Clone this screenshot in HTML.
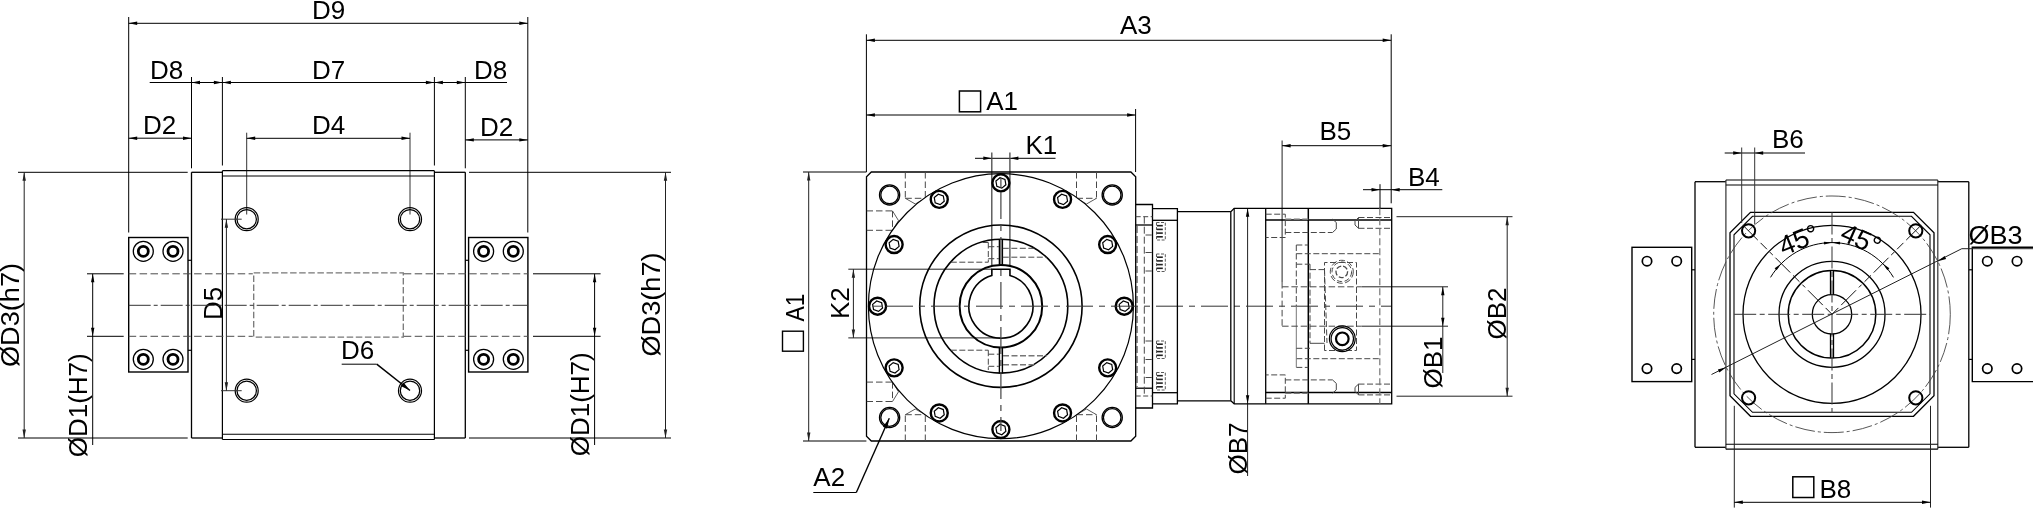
<!DOCTYPE html>
<html><head><meta charset="utf-8"><title>Drawing</title>
<style>
html,body{margin:0;padding:0;background:#fff;}
body{width:2033px;height:509px;overflow:hidden;font-family:"Liberation Sans",sans-serif;}
svg{display:block;will-change:transform;font-family:"Liberation Sans",sans-serif;}
</style></head><body>
<svg width="2033" height="509" viewBox="0 0 2033 509">
<rect x="0" y="0" width="2033" height="509" fill="#fff"/>
<line x1="128.70" y1="17.00" x2="128.70" y2="232.50" stroke="#000" stroke-width="1"/>
<line x1="527.80" y1="17.00" x2="527.80" y2="232.50" stroke="#000" stroke-width="1"/>
<line x1="128.70" y1="23.30" x2="527.80" y2="23.30" stroke="#000" stroke-width="1"/>
<polygon points="128.70,23.30 137.20,21.60 137.20,25.00" fill="#000"/>
<polygon points="527.80,23.30 519.30,25.00 519.30,21.60" fill="#000"/>
<text x="328.50" y="18.60" font-size="26" text-anchor="middle" fill="#000">D9</text>
<line x1="191.50" y1="77.00" x2="191.50" y2="168.30" stroke="#000" stroke-width="1"/>
<line x1="222.40" y1="77.00" x2="222.40" y2="165.50" stroke="#000" stroke-width="1"/>
<line x1="434.40" y1="77.00" x2="434.40" y2="165.50" stroke="#000" stroke-width="1"/>
<line x1="465.30" y1="77.00" x2="465.30" y2="168.30" stroke="#000" stroke-width="1"/>
<line x1="149.70" y1="82.50" x2="191.50" y2="82.50" stroke="#000" stroke-width="1"/>
<line x1="191.50" y1="82.50" x2="222.40" y2="82.50" stroke="#000" stroke-width="1"/>
<polygon points="191.50,82.50 200.00,80.80 200.00,84.20" fill="#000"/>
<polygon points="222.40,82.50 213.90,84.20 213.90,80.80" fill="#000"/>
<line x1="222.40" y1="82.50" x2="434.40" y2="82.50" stroke="#000" stroke-width="1"/>
<polygon points="222.40,82.50 230.90,80.80 230.90,84.20" fill="#000"/>
<polygon points="434.40,82.50 425.90,84.20 425.90,80.80" fill="#000"/>
<line x1="434.40" y1="82.50" x2="465.30" y2="82.50" stroke="#000" stroke-width="1"/>
<polygon points="434.40,82.50 442.90,80.80 442.90,84.20" fill="#000"/>
<polygon points="465.30,82.50 456.80,84.20 456.80,80.80" fill="#000"/>
<line x1="465.30" y1="82.50" x2="507.00" y2="82.50" stroke="#000" stroke-width="1"/>
<text x="150.00" y="78.70" font-size="26" text-anchor="start" fill="#000">D8</text>
<text x="328.50" y="78.70" font-size="26" text-anchor="middle" fill="#000">D7</text>
<text x="474.00" y="78.70" font-size="26" text-anchor="start" fill="#000">D8</text>
<line x1="128.70" y1="138.20" x2="191.50" y2="138.20" stroke="#000" stroke-width="1"/>
<polygon points="128.70,138.20 137.20,136.50 137.20,139.90" fill="#000"/>
<polygon points="191.50,138.20 183.00,139.90 183.00,136.50" fill="#000"/>
<text x="143.00" y="134.30" font-size="26" text-anchor="start" fill="#000">D2</text>
<line x1="465.30" y1="139.90" x2="527.80" y2="139.90" stroke="#000" stroke-width="1"/>
<polygon points="465.30,139.90 473.80,138.20 473.80,141.60" fill="#000"/>
<polygon points="527.80,139.90 519.30,141.60 519.30,138.20" fill="#000"/>
<text x="480.00" y="135.70" font-size="26" text-anchor="start" fill="#000">D2</text>
<line x1="246.70" y1="132.70" x2="246.70" y2="214.50" stroke="#333" stroke-width="1"/>
<line x1="410.00" y1="132.70" x2="410.00" y2="214.50" stroke="#333" stroke-width="1"/>
<line x1="246.70" y1="138.30" x2="410.00" y2="138.30" stroke="#000" stroke-width="1"/>
<polygon points="246.70,138.30 255.20,136.60 255.20,140.00" fill="#000"/>
<polygon points="410.00,138.30 401.50,140.00 401.50,136.60" fill="#000"/>
<text x="328.50" y="134.30" font-size="26" text-anchor="middle" fill="#000">D4</text>
<line x1="18.00" y1="172.30" x2="187.70" y2="172.30" stroke="#000" stroke-width="1"/>
<line x1="469.00" y1="172.30" x2="671.00" y2="172.30" stroke="#000" stroke-width="1"/>
<line x1="18.00" y1="438.00" x2="187.70" y2="438.00" stroke="#000" stroke-width="1"/>
<line x1="469.00" y1="438.00" x2="671.00" y2="438.00" stroke="#000" stroke-width="1"/>
<line x1="24.20" y1="172.30" x2="24.20" y2="438.00" stroke="#222" stroke-width="1"/>
<polygon points="24.20,172.30 25.90,180.80 22.50,180.80" fill="#222"/>
<polygon points="24.20,438.00 22.50,429.50 25.90,429.50" fill="#222"/>
<line x1="665.50" y1="172.30" x2="665.50" y2="438.00" stroke="#222" stroke-width="1"/>
<polygon points="665.50,172.30 667.20,180.80 663.80,180.80" fill="#222"/>
<polygon points="665.50,438.00 663.80,429.50 667.20,429.50" fill="#222"/>
<text x="19.30" y="367.00" font-size="26" text-anchor="start" fill="#000" transform="rotate(-90 19.30 367.00)" textLength="104" lengthAdjust="spacingAndGlyphs">ØD3(h7)</text>
<text x="659.80" y="356.50" font-size="26" text-anchor="start" fill="#000" transform="rotate(-90 659.80 356.50)" textLength="104" lengthAdjust="spacingAndGlyphs">ØD3(h7)</text>
<line x1="87.00" y1="273.80" x2="123.70" y2="273.80" stroke="#000" stroke-width="1"/>
<line x1="87.00" y1="336.30" x2="123.70" y2="336.30" stroke="#000" stroke-width="1"/>
<line x1="92.70" y1="273.80" x2="92.70" y2="445.00" stroke="#000" stroke-width="1"/>
<polygon points="92.70,273.80 94.40,282.30 91.00,282.30" fill="#000"/>
<polygon points="92.70,336.30 91.00,327.80 94.40,327.80" fill="#000"/>
<line x1="533.00" y1="273.80" x2="600.60" y2="273.80" stroke="#000" stroke-width="1"/>
<line x1="533.00" y1="336.30" x2="600.60" y2="336.30" stroke="#000" stroke-width="1"/>
<line x1="594.60" y1="273.80" x2="594.60" y2="445.00" stroke="#000" stroke-width="1"/>
<polygon points="594.60,273.80 596.30,282.30 592.90,282.30" fill="#000"/>
<polygon points="594.60,336.30 592.90,327.80 596.30,327.80" fill="#000"/>
<text x="87.20" y="457.30" font-size="26" text-anchor="start" fill="#000" transform="rotate(-90 87.20 457.30)" textLength="104" lengthAdjust="spacingAndGlyphs">ØD1(H7)</text>
<text x="589.20" y="456.30" font-size="26" text-anchor="start" fill="#000" transform="rotate(-90 589.20 456.30)" textLength="104" lengthAdjust="spacingAndGlyphs">ØD1(H7)</text>
<line x1="191.50" y1="172.30" x2="191.50" y2="438.00" stroke="#000" stroke-width="1.3"/>
<line x1="465.30" y1="172.30" x2="465.30" y2="438.00" stroke="#000" stroke-width="1.3"/>
<line x1="191.50" y1="172.30" x2="222.40" y2="172.30" stroke="#000" stroke-width="1.3"/>
<line x1="434.40" y1="172.30" x2="465.30" y2="172.30" stroke="#000" stroke-width="1.3"/>
<line x1="191.50" y1="438.00" x2="222.40" y2="438.00" stroke="#000" stroke-width="1.3"/>
<line x1="434.40" y1="438.00" x2="465.30" y2="438.00" stroke="#000" stroke-width="1.3"/>
<line x1="222.40" y1="170.70" x2="222.40" y2="439.50" stroke="#000" stroke-width="1.2"/>
<line x1="434.40" y1="170.70" x2="434.40" y2="439.50" stroke="#000" stroke-width="1.2"/>
<line x1="222.40" y1="170.70" x2="434.40" y2="170.70" stroke="#000" stroke-width="1.2"/>
<line x1="222.40" y1="176.00" x2="434.40" y2="176.00" stroke="#000" stroke-width="1.1"/>
<line x1="222.40" y1="439.50" x2="434.40" y2="439.50" stroke="#000" stroke-width="1.2"/>
<line x1="222.40" y1="434.30" x2="434.40" y2="434.30" stroke="#000" stroke-width="1.1"/>
<circle cx="246.70" cy="219.20" r="11.50" fill="none" stroke="#000" stroke-width="1.25"/>
<circle cx="246.70" cy="219.20" r="9.70" fill="none" stroke="#000" stroke-width="1.25"/>
<circle cx="246.70" cy="390.70" r="11.50" fill="none" stroke="#000" stroke-width="1.25"/>
<circle cx="246.70" cy="390.70" r="9.70" fill="none" stroke="#000" stroke-width="1.25"/>
<circle cx="410.00" cy="219.20" r="11.50" fill="none" stroke="#000" stroke-width="1.25"/>
<circle cx="410.00" cy="219.20" r="9.70" fill="none" stroke="#000" stroke-width="1.25"/>
<circle cx="410.00" cy="390.70" r="11.50" fill="none" stroke="#000" stroke-width="1.25"/>
<circle cx="410.00" cy="390.70" r="9.70" fill="none" stroke="#000" stroke-width="1.25"/>
<line x1="221.00" y1="219.20" x2="241.70" y2="219.20" stroke="#333" stroke-width="1"/>
<line x1="221.00" y1="390.70" x2="241.70" y2="390.70" stroke="#333" stroke-width="1"/>
<line x1="226.40" y1="219.20" x2="226.40" y2="390.70" stroke="#222" stroke-width="1"/>
<polygon points="226.40,219.20 228.10,227.70 224.70,227.70" fill="#222"/>
<polygon points="226.40,390.70 224.70,382.20 228.10,382.20" fill="#222"/>
<text x="222.00" y="320.00" font-size="26" text-anchor="start" fill="#000" transform="rotate(-90 222.00 320.00)">D5</text>
<line x1="341.70" y1="364.20" x2="376.70" y2="364.20" stroke="#000" stroke-width="1"/>
<line x1="376.70" y1="364.20" x2="410.00" y2="390.50" stroke="#000" stroke-width="1.5"/>
<polygon points="410.00,390.50 400.79,386.03 403.52,382.58" fill="#000"/>
<text x="341.00" y="358.50" font-size="26" text-anchor="start" fill="#000">D6</text>
<rect x="128.70" y="237.50" width="59.30" height="134.50" fill="none" stroke="#000" stroke-width="1.4"/>
<line x1="188.00" y1="260.30" x2="191.50" y2="260.30" stroke="#000" stroke-width="1.2"/>
<line x1="188.00" y1="350.30" x2="191.50" y2="350.30" stroke="#000" stroke-width="1.2"/>
<circle cx="143.30" cy="251.30" r="10.00" fill="none" stroke="#000" stroke-width="1.3"/>
<circle cx="143.30" cy="251.30" r="5.00" fill="none" stroke="#000" stroke-width="2.8"/>
<circle cx="143.30" cy="359.30" r="10.00" fill="none" stroke="#000" stroke-width="1.3"/>
<circle cx="143.30" cy="359.30" r="5.00" fill="none" stroke="#000" stroke-width="2.8"/>
<circle cx="173.00" cy="251.30" r="10.00" fill="none" stroke="#000" stroke-width="1.3"/>
<circle cx="173.00" cy="251.30" r="5.00" fill="none" stroke="#000" stroke-width="2.8"/>
<circle cx="173.00" cy="359.30" r="10.00" fill="none" stroke="#000" stroke-width="1.3"/>
<circle cx="173.00" cy="359.30" r="5.00" fill="none" stroke="#000" stroke-width="2.8"/>
<rect x="468.60" y="237.50" width="59.30" height="134.50" fill="none" stroke="#000" stroke-width="1.4"/>
<line x1="468.60" y1="260.30" x2="465.10" y2="260.30" stroke="#000" stroke-width="1.2"/>
<line x1="468.60" y1="350.30" x2="465.10" y2="350.30" stroke="#000" stroke-width="1.2"/>
<circle cx="513.30" cy="251.30" r="10.00" fill="none" stroke="#000" stroke-width="1.3"/>
<circle cx="513.30" cy="251.30" r="5.00" fill="none" stroke="#000" stroke-width="2.8"/>
<circle cx="513.30" cy="359.30" r="10.00" fill="none" stroke="#000" stroke-width="1.3"/>
<circle cx="513.30" cy="359.30" r="5.00" fill="none" stroke="#000" stroke-width="2.8"/>
<circle cx="483.60" cy="251.30" r="10.00" fill="none" stroke="#000" stroke-width="1.3"/>
<circle cx="483.60" cy="251.30" r="5.00" fill="none" stroke="#000" stroke-width="2.8"/>
<circle cx="483.60" cy="359.30" r="10.00" fill="none" stroke="#000" stroke-width="1.3"/>
<circle cx="483.60" cy="359.30" r="5.00" fill="none" stroke="#000" stroke-width="2.8"/>
<line x1="128.70" y1="273.80" x2="252.80" y2="273.80" stroke="#4c4c4c" stroke-width="1" stroke-dasharray="7.5 3.4"/>
<line x1="403.80" y1="273.80" x2="527.80" y2="273.80" stroke="#4c4c4c" stroke-width="1" stroke-dasharray="7.5 3.4"/>
<line x1="128.70" y1="336.30" x2="252.80" y2="336.30" stroke="#4c4c4c" stroke-width="1" stroke-dasharray="7.5 3.4"/>
<line x1="403.80" y1="336.30" x2="527.80" y2="336.30" stroke="#4c4c4c" stroke-width="1" stroke-dasharray="7.5 3.4"/>
<rect x="253.70" y="272.90" width="149.60" height="64.20" fill="none" stroke="#777" stroke-width="1.3" stroke-dasharray="6.5 2.6"/>
<line x1="128.70" y1="305.30" x2="527.80" y2="305.30" stroke="#333" stroke-width="1" stroke-dasharray="22 3 4 3"/>
<line x1="866.40" y1="34.30" x2="866.40" y2="172.00" stroke="#000" stroke-width="1"/>
<line x1="1391.20" y1="34.30" x2="1391.20" y2="203.30" stroke="#000" stroke-width="1"/>
<line x1="866.40" y1="40.30" x2="1391.20" y2="40.30" stroke="#000" stroke-width="1"/>
<polygon points="866.40,40.30 874.90,38.60 874.90,42.00" fill="#000"/>
<polygon points="1391.20,40.30 1382.70,42.00 1382.70,38.60" fill="#000"/>
<text x="1120.00" y="34.30" font-size="26" text-anchor="start" fill="#000">A3</text>
<line x1="1135.60" y1="109.00" x2="1135.60" y2="172.00" stroke="#000" stroke-width="1"/>
<line x1="866.40" y1="115.00" x2="1135.60" y2="115.00" stroke="#000" stroke-width="1"/>
<polygon points="866.40,115.00 874.90,113.30 874.90,116.70" fill="#000"/>
<polygon points="1135.60,115.00 1127.10,116.70 1127.10,113.30" fill="#000"/>
<rect x="959.40" y="91.00" width="21.20" height="20.80" fill="none" stroke="#000" stroke-width="1.5"/>
<text x="986.20" y="110.00" font-size="26" text-anchor="start" fill="#000">A1</text>
<line x1="975.00" y1="158.30" x2="1055.50" y2="158.30" stroke="#000" stroke-width="1"/>
<polygon points="991.80,158.30 983.30,160.00 983.30,156.60" fill="#000"/>
<polygon points="1009.90,158.30 1018.40,156.60 1018.40,160.00" fill="#000"/>
<line x1="991.80" y1="152.50" x2="991.80" y2="265.50" stroke="#484848" stroke-width="1.3"/>
<line x1="1009.90" y1="152.50" x2="1009.90" y2="265.50" stroke="#484848" stroke-width="1.3"/>
<text x="1025.50" y="154.30" font-size="26" text-anchor="start" fill="#000">K1</text>
<line x1="1282.10" y1="140.50" x2="1282.10" y2="282.00" stroke="#222" stroke-width="1"/>
<line x1="1282.10" y1="145.70" x2="1391.20" y2="145.70" stroke="#000" stroke-width="1"/>
<polygon points="1282.10,145.70 1290.60,144.00 1290.60,147.40" fill="#000"/>
<polygon points="1391.20,145.70 1382.70,147.40 1382.70,144.00" fill="#000"/>
<text x="1319.50" y="140.00" font-size="26" text-anchor="start" fill="#000">B5</text>
<line x1="1363.00" y1="189.70" x2="1442.30" y2="189.70" stroke="#000" stroke-width="1"/>
<polygon points="1380.00,189.70 1371.50,191.40 1371.50,188.00" fill="#000"/>
<polygon points="1391.20,189.70 1399.70,188.00 1399.70,191.40" fill="#000"/>
<line x1="1380.00" y1="184.20" x2="1380.00" y2="208.30" stroke="#000" stroke-width="1"/>
<text x="1408.00" y="185.50" font-size="26" text-anchor="start" fill="#000">B4</text>
<line x1="803.00" y1="172.00" x2="866.40" y2="172.00" stroke="#000" stroke-width="1"/>
<line x1="803.00" y1="441.00" x2="866.40" y2="441.00" stroke="#000" stroke-width="1"/>
<line x1="808.70" y1="172.00" x2="808.70" y2="441.00" stroke="#222" stroke-width="1"/>
<polygon points="808.70,172.00 810.40,180.50 807.00,180.50" fill="#222"/>
<polygon points="808.70,441.00 807.00,432.50 810.40,432.50" fill="#222"/>
<text x="804.00" y="321.50" font-size="26" text-anchor="start" fill="#000" transform="rotate(-90 804.00 321.50)" textLength="28" lengthAdjust="spacingAndGlyphs">A1</text>
<rect x="782.50" y="331.20" width="20.90" height="20.00" fill="none" stroke="#000" stroke-width="1.4"/>
<line x1="848.30" y1="269.20" x2="991.80" y2="269.20" stroke="#222" stroke-width="1"/>
<line x1="848.30" y1="337.90" x2="1000.90" y2="337.90" stroke="#222" stroke-width="1"/>
<line x1="853.40" y1="269.20" x2="853.40" y2="337.90" stroke="#222" stroke-width="1"/>
<polygon points="853.40,269.20 855.10,277.70 851.70,277.70" fill="#222"/>
<polygon points="853.40,337.90 851.70,329.40 855.10,329.40" fill="#222"/>
<text x="848.50" y="319.00" font-size="26" text-anchor="start" fill="#000" transform="rotate(-90 848.50 319.00)">K2</text>
<line x1="813.30" y1="492.50" x2="856.30" y2="492.50" stroke="#000" stroke-width="1.2"/>
<line x1="856.30" y1="492.50" x2="889.30" y2="418.20" stroke="#000" stroke-width="1.4"/>
<polygon points="889.30,418.20 887.14,428.73 882.94,426.86" fill="#000"/>
<text x="813.30" y="485.50" font-size="26" text-anchor="start" fill="#000">A2</text>
<line x1="1247.60" y1="208.30" x2="1247.60" y2="476.00" stroke="#222" stroke-width="1"/>
<polygon points="1247.60,208.30 1249.30,216.80 1245.90,216.80" fill="#000"/>
<polygon points="1247.60,403.80 1245.90,395.30 1249.30,395.30" fill="#000"/>
<text x="1246.50" y="474.50" font-size="26" text-anchor="start" fill="#000" transform="rotate(-90 1246.50 474.50)">ØB7</text>
<line x1="1361.70" y1="286.80" x2="1448.00" y2="286.80" stroke="#222" stroke-width="1"/>
<line x1="1361.70" y1="326.20" x2="1448.00" y2="326.20" stroke="#222" stroke-width="1"/>
<line x1="1442.80" y1="286.80" x2="1442.80" y2="373.00" stroke="#222" stroke-width="1"/>
<polygon points="1442.80,286.80 1444.50,295.30 1441.10,295.30" fill="#000"/>
<polygon points="1442.80,326.20 1441.10,317.70 1444.50,317.70" fill="#000"/>
<text x="1442.00" y="388.50" font-size="26" text-anchor="start" fill="#000" transform="rotate(-90 1442.00 388.50)">ØB1</text>
<line x1="1396.50" y1="216.70" x2="1512.50" y2="216.70" stroke="#222" stroke-width="1"/>
<line x1="1396.50" y1="396.20" x2="1512.50" y2="396.20" stroke="#222" stroke-width="1"/>
<line x1="1507.20" y1="216.70" x2="1507.20" y2="396.20" stroke="#222" stroke-width="1"/>
<polygon points="1507.20,216.70 1508.90,225.20 1505.50,225.20" fill="#222"/>
<polygon points="1507.20,396.20 1505.50,387.70 1508.90,387.70" fill="#222"/>
<text x="1506.00" y="339.50" font-size="26" text-anchor="start" fill="#000" transform="rotate(-90 1506.00 339.50)">ØB2</text>
<path d="M871.30 172.00 L1130.90 172.00 L1135.70 176.80 L1135.70 436.20 L1130.90 441.00 L871.30 441.00 L866.50 436.20 L866.50 176.80 Z" fill="none" stroke="#000" stroke-width="1.3"/>
<circle cx="889.60" cy="194.90" r="10.10" fill="none" stroke="#000" stroke-width="1.3"/>
<circle cx="889.60" cy="194.90" r="8.80" fill="none" stroke="#000" stroke-width="1.3"/>
<circle cx="889.60" cy="417.50" r="10.10" fill="none" stroke="#000" stroke-width="1.3"/>
<circle cx="889.60" cy="417.50" r="8.80" fill="none" stroke="#000" stroke-width="1.3"/>
<circle cx="1112.20" cy="194.90" r="10.10" fill="none" stroke="#000" stroke-width="1.3"/>
<circle cx="1112.20" cy="194.90" r="8.80" fill="none" stroke="#000" stroke-width="1.3"/>
<circle cx="1112.20" cy="417.50" r="10.10" fill="none" stroke="#000" stroke-width="1.3"/>
<circle cx="1112.20" cy="417.50" r="8.80" fill="none" stroke="#000" stroke-width="1.3"/>
<clipPath id="outc"><path clip-rule="evenodd" d="M866.5 172.0 H1135.7 V441.0 H866.5 Z M868.4 306.2 a132.5 132.5 0 1 0 265.0 0 a132.5 132.5 0 1 0 -265.0 0 Z"/></clipPath>
<g clip-path="url(#outc)">
<line x1="905.30" y1="172.00" x2="905.30" y2="198.30" stroke="#484848" stroke-width="1" stroke-dasharray="6.5 3"/>
<line x1="925.30" y1="172.00" x2="925.30" y2="198.30" stroke="#484848" stroke-width="1" stroke-dasharray="6.5 3"/>
<line x1="905.30" y1="198.30" x2="925.30" y2="198.30" stroke="#484848" stroke-width="1" stroke-dasharray="6.5 3"/>
<path d="M905.30 198.30 L915.30 204.00 L925.30 198.30" fill="none" stroke="#484848" stroke-width="0.9"/>
<line x1="905.30" y1="441.00" x2="905.30" y2="414.70" stroke="#484848" stroke-width="1" stroke-dasharray="6.5 3"/>
<line x1="925.30" y1="441.00" x2="925.30" y2="414.70" stroke="#484848" stroke-width="1" stroke-dasharray="6.5 3"/>
<line x1="905.30" y1="414.70" x2="925.30" y2="414.70" stroke="#484848" stroke-width="1" stroke-dasharray="6.5 3"/>
<path d="M905.30 414.70 L915.30 409.00 L925.30 414.70" fill="none" stroke="#484848" stroke-width="0.9"/>
<line x1="1076.50" y1="172.00" x2="1076.50" y2="198.30" stroke="#484848" stroke-width="1" stroke-dasharray="6.5 3"/>
<line x1="1096.50" y1="172.00" x2="1096.50" y2="198.30" stroke="#484848" stroke-width="1" stroke-dasharray="6.5 3"/>
<line x1="1076.50" y1="198.30" x2="1096.50" y2="198.30" stroke="#484848" stroke-width="1" stroke-dasharray="6.5 3"/>
<path d="M1076.50 198.30 L1086.50 204.00 L1096.50 198.30" fill="none" stroke="#484848" stroke-width="0.9"/>
<line x1="1076.50" y1="441.00" x2="1076.50" y2="414.70" stroke="#484848" stroke-width="1" stroke-dasharray="6.5 3"/>
<line x1="1096.50" y1="441.00" x2="1096.50" y2="414.70" stroke="#484848" stroke-width="1" stroke-dasharray="6.5 3"/>
<line x1="1076.50" y1="414.70" x2="1096.50" y2="414.70" stroke="#484848" stroke-width="1" stroke-dasharray="6.5 3"/>
<path d="M1076.50 414.70 L1086.50 409.00 L1096.50 414.70" fill="none" stroke="#484848" stroke-width="0.9"/>
<line x1="866.50" y1="210.90" x2="892.50" y2="210.90" stroke="#484848" stroke-width="1" stroke-dasharray="6.5 3"/>
<line x1="866.50" y1="230.30" x2="892.50" y2="230.30" stroke="#484848" stroke-width="1" stroke-dasharray="6.5 3"/>
<line x1="892.50" y1="210.90" x2="892.50" y2="230.30" stroke="#484848" stroke-width="1" stroke-dasharray="6.5 3"/>
<path d="M892.50 210.90 L898.50 220.60 L892.50 230.30" fill="none" stroke="#484848" stroke-width="0.9"/>
<line x1="866.50" y1="382.10" x2="892.50" y2="382.10" stroke="#484848" stroke-width="1" stroke-dasharray="6.5 3"/>
<line x1="866.50" y1="401.50" x2="892.50" y2="401.50" stroke="#484848" stroke-width="1" stroke-dasharray="6.5 3"/>
<line x1="892.50" y1="382.10" x2="892.50" y2="401.50" stroke="#484848" stroke-width="1" stroke-dasharray="6.5 3"/>
<path d="M892.50 382.10 L898.50 391.80 L892.50 401.50" fill="none" stroke="#484848" stroke-width="0.9"/>
</g>
<circle cx="1000.90" cy="306.20" r="132.50" fill="none" stroke="#000" stroke-width="1.2"/>
<circle cx="1000.90" cy="306.20" r="81.20" fill="none" stroke="#000" stroke-width="1.6"/>
<circle cx="1000.90" cy="306.20" r="66.90" fill="none" stroke="#000" stroke-width="1.6"/>
<circle cx="1000.90" cy="306.20" r="41.30" fill="none" stroke="#000" stroke-width="2.0"/>
<path d="M991.85 275.51 V269.2 H1009.95 V275.51 A32.0 32.0 0 1 1 991.85 275.51 Z" fill="none" stroke="#000" stroke-width="1.6"/>
<line x1="999.40" y1="239.30" x2="999.40" y2="264.90" stroke="#000" stroke-width="1.4"/>
<line x1="1002.40" y1="239.30" x2="1002.40" y2="264.90" stroke="#000" stroke-width="1.4"/>
<line x1="999.40" y1="347.50" x2="999.40" y2="373.10" stroke="#000" stroke-width="1.4"/>
<line x1="1002.40" y1="347.50" x2="1002.40" y2="373.10" stroke="#000" stroke-width="1.4"/>
<line x1="950.80" y1="262.20" x2="988.30" y2="262.20" stroke="#484848" stroke-width="1" stroke-dasharray="6 2.5"/>
<line x1="988.30" y1="242.50" x2="988.30" y2="262.20" stroke="#484848" stroke-width="1" stroke-dasharray="6 2.5"/>
<line x1="982.50" y1="242.50" x2="988.30" y2="242.50" stroke="#484848" stroke-width="1"/>
<line x1="988.30" y1="246.70" x2="999.00" y2="246.70" stroke="#484848" stroke-width="1" stroke-dasharray="6 2.5"/>
<line x1="988.30" y1="258.70" x2="999.00" y2="258.70" stroke="#484848" stroke-width="1" stroke-dasharray="6 2.5"/>
<line x1="1002.80" y1="248.30" x2="1035.00" y2="248.30" stroke="#484848" stroke-width="1" stroke-dasharray="6 2.5"/>
<line x1="1002.80" y1="257.20" x2="1046.70" y2="257.20" stroke="#484848" stroke-width="1" stroke-dasharray="6 2.5"/>
<line x1="950.80" y1="350.20" x2="988.30" y2="350.20" stroke="#484848" stroke-width="1" stroke-dasharray="6 2.5"/>
<line x1="988.30" y1="350.20" x2="988.30" y2="370.00" stroke="#484848" stroke-width="1" stroke-dasharray="6 2.5"/>
<line x1="988.30" y1="354.20" x2="999.00" y2="354.20" stroke="#484848" stroke-width="1" stroke-dasharray="6 2.5"/>
<line x1="988.30" y1="366.30" x2="999.00" y2="366.30" stroke="#484848" stroke-width="1" stroke-dasharray="6 2.5"/>
<line x1="1003.00" y1="355.80" x2="1046.70" y2="355.80" stroke="#777" stroke-width="1.5" stroke-dasharray="6 2.5"/>
<line x1="1003.00" y1="364.70" x2="1034.20" y2="364.70" stroke="#777" stroke-width="1.5" stroke-dasharray="6 2.5"/>
<circle cx="1124.20" cy="306.20" r="8.50" fill="none" stroke="#000" stroke-width="2.4"/>
<path d="M1129.18 308.01 L1125.12 311.42 L1120.14 309.61 L1119.22 304.39 L1123.28 300.98 L1128.26 302.79 Z" fill="none" stroke="#000" stroke-width="1.2"/>
<circle cx="1107.68" cy="367.85" r="8.50" fill="none" stroke="#000" stroke-width="2.4"/>
<path d="M1112.66 369.66 L1108.60 373.07 L1103.62 371.26 L1102.70 366.04 L1106.76 362.63 L1111.74 364.44 Z" fill="none" stroke="#000" stroke-width="1.2"/>
<circle cx="1062.55" cy="412.98" r="8.50" fill="none" stroke="#000" stroke-width="2.4"/>
<path d="M1067.53 414.79 L1063.47 418.20 L1058.49 416.39 L1057.57 411.17 L1061.63 407.76 L1066.61 409.57 Z" fill="none" stroke="#000" stroke-width="1.2"/>
<circle cx="1000.90" cy="429.50" r="8.50" fill="none" stroke="#000" stroke-width="2.4"/>
<path d="M1005.88 431.31 L1001.82 434.72 L996.84 432.91 L995.92 427.69 L999.98 424.28 L1004.96 426.09 Z" fill="none" stroke="#000" stroke-width="1.2"/>
<circle cx="939.25" cy="412.98" r="8.50" fill="none" stroke="#000" stroke-width="2.4"/>
<path d="M944.23 414.79 L940.17 418.20 L935.19 416.39 L934.27 411.17 L938.33 407.76 L943.31 409.57 Z" fill="none" stroke="#000" stroke-width="1.2"/>
<circle cx="894.12" cy="367.85" r="8.50" fill="none" stroke="#000" stroke-width="2.4"/>
<path d="M899.10 369.66 L895.04 373.07 L890.06 371.26 L889.14 366.04 L893.20 362.63 L898.18 364.44 Z" fill="none" stroke="#000" stroke-width="1.2"/>
<circle cx="877.60" cy="306.20" r="8.50" fill="none" stroke="#000" stroke-width="2.4"/>
<path d="M882.58 308.01 L878.52 311.42 L873.54 309.61 L872.62 304.39 L876.68 300.98 L881.66 302.79 Z" fill="none" stroke="#000" stroke-width="1.2"/>
<circle cx="894.12" cy="244.55" r="8.50" fill="none" stroke="#000" stroke-width="2.4"/>
<path d="M899.10 246.36 L895.04 249.77 L890.06 247.96 L889.14 242.74 L893.20 239.33 L898.18 241.14 Z" fill="none" stroke="#000" stroke-width="1.2"/>
<circle cx="939.25" cy="199.42" r="8.50" fill="none" stroke="#000" stroke-width="2.4"/>
<path d="M944.23 201.23 L940.17 204.64 L935.19 202.83 L934.27 197.61 L938.33 194.20 L943.31 196.01 Z" fill="none" stroke="#000" stroke-width="1.2"/>
<circle cx="1000.90" cy="182.90" r="8.50" fill="none" stroke="#000" stroke-width="2.4"/>
<path d="M1005.88 184.71 L1001.82 188.12 L996.84 186.31 L995.92 181.09 L999.98 177.68 L1004.96 179.49 Z" fill="none" stroke="#000" stroke-width="1.2"/>
<circle cx="1062.55" cy="199.42" r="8.50" fill="none" stroke="#000" stroke-width="2.4"/>
<path d="M1067.53 201.23 L1063.47 204.64 L1058.49 202.83 L1057.57 197.61 L1061.63 194.20 L1066.61 196.01 Z" fill="none" stroke="#000" stroke-width="1.2"/>
<circle cx="1107.68" cy="244.55" r="8.50" fill="none" stroke="#000" stroke-width="2.4"/>
<path d="M1112.66 246.36 L1108.60 249.77 L1103.62 247.96 L1102.70 242.74 L1106.76 239.33 L1111.74 241.14 Z" fill="none" stroke="#000" stroke-width="1.2"/>
<line x1="886.00" y1="306.20" x2="1391.50" y2="306.20" stroke="#333" stroke-width="1" stroke-dasharray="27 6 6 6"/>
<line x1="1000.90" y1="192.00" x2="1000.90" y2="431.00" stroke="#444" stroke-width="1.2" stroke-dasharray="27 6 6 6"/>
<line x1="1000.90" y1="178.00" x2="1000.90" y2="188.00" stroke="#444" stroke-width="1.2"/>
<line x1="872.00" y1="306.20" x2="883.00" y2="306.20" stroke="#444" stroke-width="1"/>
<path d="M1135.70 204.50 L1152.50 204.50 L1152.50 408.00 L1135.70 408.00" fill="none" stroke="#000" stroke-width="1.3"/>
<line x1="1135.70" y1="225.00" x2="1152.50" y2="225.00" stroke="#000" stroke-width="1.3"/>
<line x1="1135.70" y1="388.20" x2="1152.50" y2="388.20" stroke="#000" stroke-width="1.3"/>
<path d="M1152.50 208.60 L1177.40 208.60 L1177.40 403.80 L1152.50 403.80" fill="none" stroke="#000" stroke-width="1.3"/>
<line x1="1152.50" y1="220.30" x2="1177.40" y2="220.30" stroke="#000" stroke-width="1.3"/>
<line x1="1152.50" y1="392.70" x2="1177.40" y2="392.70" stroke="#000" stroke-width="1.3"/>
<line x1="1135.70" y1="216.70" x2="1152.50" y2="216.70" stroke="#484848" stroke-width="1" stroke-dasharray="5 2.5"/>
<line x1="1135.70" y1="396.00" x2="1152.50" y2="396.00" stroke="#484848" stroke-width="1" stroke-dasharray="5 2.5"/>
<line x1="1144.30" y1="216.70" x2="1144.30" y2="396.00" stroke="#484848" stroke-width="1" stroke-dasharray="7 3"/>
<line x1="1137.00" y1="226.00" x2="1137.00" y2="387.00" stroke="#444" stroke-width="1.2" stroke-dasharray="7 3"/>
<line x1="1145.50" y1="235.00" x2="1151.80" y2="235.00" stroke="#484848" stroke-width="1"/>
<line x1="1145.50" y1="252.50" x2="1151.80" y2="252.50" stroke="#484848" stroke-width="1"/>
<line x1="1145.50" y1="271.00" x2="1151.80" y2="271.00" stroke="#484848" stroke-width="1"/>
<line x1="1145.50" y1="341.00" x2="1151.80" y2="341.00" stroke="#484848" stroke-width="1"/>
<line x1="1145.50" y1="359.50" x2="1151.80" y2="359.50" stroke="#484848" stroke-width="1"/>
<line x1="1145.50" y1="377.50" x2="1151.80" y2="377.50" stroke="#484848" stroke-width="1"/>
<rect x="1156.50" y="222.50" width="8.80" height="17.50" fill="none" stroke="#484848" stroke-width="0.9" stroke-dasharray="3 1.5"/>
<line x1="1157.00" y1="225.70" x2="1162.80" y2="225.70" stroke="#222" stroke-width="1.6"/>
<line x1="1157.00" y1="229.40" x2="1162.80" y2="229.40" stroke="#222" stroke-width="1.6"/>
<line x1="1157.00" y1="233.10" x2="1162.80" y2="233.10" stroke="#222" stroke-width="1.6"/>
<line x1="1157.00" y1="236.80" x2="1162.80" y2="236.80" stroke="#222" stroke-width="1.6"/>
<rect x="1156.50" y="254.00" width="8.80" height="17.50" fill="none" stroke="#484848" stroke-width="0.9" stroke-dasharray="3 1.5"/>
<line x1="1157.00" y1="257.20" x2="1162.80" y2="257.20" stroke="#222" stroke-width="1.6"/>
<line x1="1157.00" y1="260.90" x2="1162.80" y2="260.90" stroke="#222" stroke-width="1.6"/>
<line x1="1157.00" y1="264.60" x2="1162.80" y2="264.60" stroke="#222" stroke-width="1.6"/>
<line x1="1157.00" y1="268.30" x2="1162.80" y2="268.30" stroke="#222" stroke-width="1.6"/>
<rect x="1156.50" y="341.00" width="8.80" height="17.50" fill="none" stroke="#484848" stroke-width="0.9" stroke-dasharray="3 1.5"/>
<line x1="1157.00" y1="344.20" x2="1162.80" y2="344.20" stroke="#222" stroke-width="1.6"/>
<line x1="1157.00" y1="347.90" x2="1162.80" y2="347.90" stroke="#222" stroke-width="1.6"/>
<line x1="1157.00" y1="351.60" x2="1162.80" y2="351.60" stroke="#222" stroke-width="1.6"/>
<line x1="1157.00" y1="355.30" x2="1162.80" y2="355.30" stroke="#222" stroke-width="1.6"/>
<rect x="1156.50" y="372.50" width="8.80" height="17.50" fill="none" stroke="#484848" stroke-width="0.9" stroke-dasharray="3 1.5"/>
<line x1="1157.00" y1="375.70" x2="1162.80" y2="375.70" stroke="#222" stroke-width="1.6"/>
<line x1="1157.00" y1="379.40" x2="1162.80" y2="379.40" stroke="#222" stroke-width="1.6"/>
<line x1="1157.00" y1="383.10" x2="1162.80" y2="383.10" stroke="#222" stroke-width="1.6"/>
<line x1="1157.00" y1="386.80" x2="1162.80" y2="386.80" stroke="#222" stroke-width="1.6"/>
<line x1="1177.40" y1="211.70" x2="1230.80" y2="211.70" stroke="#000" stroke-width="1.3"/>
<line x1="1177.40" y1="400.80" x2="1230.80" y2="400.80" stroke="#000" stroke-width="1.3"/>
<path d="M1230.80 400.80 L1230.80 211.70 L1234.20 208.30 L1391.70 208.30 L1391.70 403.80 L1234.20 403.80 L1230.80 400.80" fill="none" stroke="#000" stroke-width="1.3"/>
<line x1="1234.20" y1="208.30" x2="1234.20" y2="403.80" stroke="#000" stroke-width="1.1"/>
<line x1="1265.70" y1="208.30" x2="1265.70" y2="403.80" stroke="#000" stroke-width="1.3"/>
<line x1="1308.30" y1="208.30" x2="1308.30" y2="403.80" stroke="#000" stroke-width="1.5"/>
<line x1="1265.70" y1="220.00" x2="1391.70" y2="220.00" stroke="#000" stroke-width="1.5"/>
<line x1="1265.70" y1="392.60" x2="1391.70" y2="392.60" stroke="#000" stroke-width="1.5"/>
<path d="M1265.70 214.20 L1285.30 214.20 L1285.30 237.50 L1265.70 237.50" fill="none" stroke="#484848" stroke-width="1" stroke-dasharray="6 2.5"/>
<line x1="1285.30" y1="219.20" x2="1308.30" y2="219.20" stroke="#777" stroke-width="1.4" stroke-dasharray="6 2.5"/>
<line x1="1285.30" y1="232.50" x2="1332.50" y2="232.50" stroke="#484848" stroke-width="1" stroke-dasharray="6 2.5"/>
<path d="M1332.50 219.20 L1336.30 222.50 L1336.30 229.00 L1332.50 232.50" fill="none" stroke="#484848" stroke-width="1"/>
<line x1="1358.50" y1="217.50" x2="1391.70" y2="217.50" stroke="#484848" stroke-width="1" stroke-dasharray="6 2.5"/>
<line x1="1358.50" y1="228.30" x2="1391.70" y2="228.30" stroke="#484848" stroke-width="1" stroke-dasharray="6 2.5"/>
<path d="M1358.50 217.50 L1355.00 221.00 L1355.00 225.00 L1358.50 228.30" fill="none" stroke="#484848" stroke-width="1"/>
<line x1="1358.50" y1="217.50" x2="1358.50" y2="228.30" stroke="#484848" stroke-width="1"/>
<line x1="1296.30" y1="245.00" x2="1308.30" y2="245.00" stroke="#484848" stroke-width="1" stroke-dasharray="6 2.5"/>
<line x1="1296.30" y1="253.70" x2="1379.70" y2="253.70" stroke="#484848" stroke-width="1" stroke-dasharray="6 2.5"/>
<path d="M1265.70 398.20 L1285.30 398.20 L1285.30 374.90 L1265.70 374.90" fill="none" stroke="#484848" stroke-width="1" stroke-dasharray="6 2.5"/>
<line x1="1285.30" y1="393.20" x2="1308.30" y2="393.20" stroke="#777" stroke-width="1.4" stroke-dasharray="6 2.5"/>
<line x1="1285.30" y1="379.90" x2="1332.50" y2="379.90" stroke="#484848" stroke-width="1" stroke-dasharray="6 2.5"/>
<path d="M1332.50 393.20 L1336.30 389.90 L1336.30 383.40 L1332.50 379.90" fill="none" stroke="#484848" stroke-width="1"/>
<line x1="1358.50" y1="394.90" x2="1391.70" y2="394.90" stroke="#484848" stroke-width="1" stroke-dasharray="6 2.5"/>
<line x1="1358.50" y1="384.10" x2="1391.70" y2="384.10" stroke="#484848" stroke-width="1" stroke-dasharray="6 2.5"/>
<path d="M1358.50 394.90 L1355.00 391.40 L1355.00 387.40 L1358.50 384.10" fill="none" stroke="#484848" stroke-width="1"/>
<line x1="1358.50" y1="394.90" x2="1358.50" y2="384.10" stroke="#484848" stroke-width="1"/>
<line x1="1296.30" y1="367.40" x2="1308.30" y2="367.40" stroke="#484848" stroke-width="1" stroke-dasharray="6 2.5"/>
<line x1="1296.30" y1="358.70" x2="1379.70" y2="358.70" stroke="#484848" stroke-width="1" stroke-dasharray="6 2.5"/>
<line x1="1296.30" y1="245.00" x2="1296.30" y2="306.00" stroke="#484848" stroke-width="1" stroke-dasharray="6 2.5"/>
<line x1="1296.30" y1="306.00" x2="1296.30" y2="367.30" stroke="#777" stroke-width="1"/>
<line x1="1379.80" y1="208.30" x2="1379.80" y2="403.80" stroke="#777" stroke-width="1.2" stroke-dasharray="7 3"/>
<line x1="1282.10" y1="286.80" x2="1361.70" y2="286.80" stroke="#484848" stroke-width="1" stroke-dasharray="6.5 2.8"/>
<line x1="1282.10" y1="326.20" x2="1361.70" y2="326.20" stroke="#484848" stroke-width="1" stroke-dasharray="6.5 2.8"/>
<line x1="1282.10" y1="282.00" x2="1282.10" y2="326.20" stroke="#484848" stroke-width="1" stroke-dasharray="6.5 2.8"/>
<line x1="1296.30" y1="264.20" x2="1310.00" y2="264.20" stroke="#484848" stroke-width="1" stroke-dasharray="6 2.5"/>
<line x1="1310.00" y1="264.20" x2="1310.00" y2="343.30" stroke="#484848" stroke-width="1" stroke-dasharray="6 2.5"/>
<line x1="1310.00" y1="269.60" x2="1324.50" y2="269.60" stroke="#484848" stroke-width="1" stroke-dasharray="6 2.5"/>
<line x1="1310.00" y1="343.30" x2="1324.50" y2="343.30" stroke="#484848" stroke-width="1"/>
<line x1="1296.30" y1="348.30" x2="1310.00" y2="348.30" stroke="#484848" stroke-width="1" stroke-dasharray="6 2.5"/>
<path d="M1324.50 350.50 L1324.50 262.50 L1356.50 262.50 L1356.50 350.50 L1324.50 350.50" fill="none" stroke="#484848" stroke-width="1" stroke-dasharray="6 2.5"/>
<line x1="1324.50" y1="270.00" x2="1327.00" y2="343.00" stroke="#484848" stroke-width="1" stroke-dasharray="6 2.5"/>
<circle cx="1341.80" cy="271.80" r="11.50" fill="none" stroke="#484848" stroke-width="1" stroke-dasharray="6 2.5"/>
<circle cx="1341.80" cy="271.80" r="9.80" fill="none" stroke="#484848" stroke-width="1" stroke-dasharray="5 2.5"/>
<circle cx="1341.80" cy="271.80" r="5.80" fill="none" stroke="#484848" stroke-width="1.3" stroke-dasharray="5 2"/>
<circle cx="1342.30" cy="338.80" r="12.90" fill="none" stroke="#000" stroke-width="1.2"/>
<circle cx="1342.30" cy="338.80" r="11.20" fill="none" stroke="#000" stroke-width="1.2"/>
<circle cx="1342.30" cy="338.80" r="6.30" fill="none" stroke="#000" stroke-width="2.2"/>
<line x1="1695.00" y1="181.70" x2="1695.00" y2="447.30" stroke="#000" stroke-width="1.3"/>
<line x1="1968.80" y1="181.70" x2="1968.80" y2="447.30" stroke="#000" stroke-width="1.3"/>
<line x1="1695.00" y1="181.70" x2="1725.90" y2="181.70" stroke="#000" stroke-width="1.3"/>
<line x1="1937.80" y1="181.70" x2="1968.80" y2="181.70" stroke="#000" stroke-width="1.3"/>
<line x1="1695.00" y1="447.30" x2="1725.90" y2="447.30" stroke="#000" stroke-width="1.3"/>
<line x1="1937.80" y1="447.30" x2="1968.80" y2="447.30" stroke="#000" stroke-width="1.3"/>
<line x1="1725.90" y1="180.00" x2="1725.90" y2="449.20" stroke="#333" stroke-width="1.2"/>
<line x1="1937.80" y1="180.00" x2="1937.80" y2="449.20" stroke="#333" stroke-width="1.2"/>
<line x1="1725.90" y1="180.00" x2="1937.80" y2="180.00" stroke="#000" stroke-width="1.2"/>
<line x1="1725.90" y1="185.00" x2="1937.80" y2="185.00" stroke="#000" stroke-width="1.1"/>
<line x1="1725.90" y1="449.20" x2="1937.80" y2="449.20" stroke="#000" stroke-width="1.2"/>
<line x1="1725.90" y1="444.30" x2="1937.80" y2="444.30" stroke="#000" stroke-width="1.1"/>
<rect x="1632.00" y="247.30" width="59.70" height="134.30" fill="none" stroke="#000" stroke-width="1.4"/>
<line x1="1691.70" y1="269.80" x2="1695.00" y2="269.80" stroke="#000" stroke-width="1.2"/>
<line x1="1691.70" y1="359.40" x2="1695.00" y2="359.40" stroke="#000" stroke-width="1.2"/>
<circle cx="1647.00" cy="261.20" r="4.70" fill="none" stroke="#000" stroke-width="1.7"/>
<circle cx="1647.00" cy="368.60" r="4.70" fill="none" stroke="#000" stroke-width="1.7"/>
<circle cx="1676.70" cy="261.20" r="4.70" fill="none" stroke="#000" stroke-width="1.7"/>
<circle cx="1676.70" cy="368.60" r="4.70" fill="none" stroke="#000" stroke-width="1.7"/>
<path d="M2034.00 247.30 L1972.30 247.30 L1972.30 381.60 L2034.00 381.60" fill="none" stroke="#000" stroke-width="1.4"/>
<line x1="1972.30" y1="269.80" x2="1969.00" y2="269.80" stroke="#000" stroke-width="1.2"/>
<line x1="1972.30" y1="359.40" x2="1969.00" y2="359.40" stroke="#000" stroke-width="1.2"/>
<circle cx="2017.00" cy="261.20" r="4.70" fill="none" stroke="#000" stroke-width="1.7"/>
<circle cx="2017.00" cy="368.60" r="4.70" fill="none" stroke="#000" stroke-width="1.7"/>
<circle cx="1987.30" cy="261.20" r="4.70" fill="none" stroke="#000" stroke-width="1.7"/>
<circle cx="1987.30" cy="368.60" r="4.70" fill="none" stroke="#000" stroke-width="1.7"/>
<path d="M1750.50 212.30 L1913.50 212.30 L1934.00 232.80 L1934.00 395.80 L1913.50 416.30 L1750.50 416.30 L1730.00 395.80 L1730.00 232.80 Z" fill="none" stroke="#000" stroke-width="1.3"/>
<path d="M1752.50 216.30 L1911.50 216.30 L1930.00 234.80 L1930.00 393.80 L1911.50 412.30 L1752.50 412.30 L1734.00 393.80 L1734.00 234.80 Z" fill="none" stroke="#000" stroke-width="1.1"/>
<circle cx="1832.00" cy="314.30" r="89.00" fill="none" stroke="#000" stroke-width="1.3"/>
<circle cx="1832.00" cy="314.30" r="53.00" fill="none" stroke="#000" stroke-width="1.3"/>
<circle cx="1832.00" cy="314.30" r="43.80" fill="none" stroke="#000" stroke-width="1.5"/>
<circle cx="1832.00" cy="314.30" r="19.70" fill="none" stroke="#000" stroke-width="1.3"/>
<line x1="1830.50" y1="270.50" x2="1830.50" y2="294.60" stroke="#000" stroke-width="1.3"/>
<line x1="1833.50" y1="270.50" x2="1833.50" y2="294.60" stroke="#000" stroke-width="1.3"/>
<line x1="1830.50" y1="334.00" x2="1830.50" y2="358.10" stroke="#000" stroke-width="1.3"/>
<line x1="1833.50" y1="334.00" x2="1833.50" y2="358.10" stroke="#000" stroke-width="1.3"/>
<circle cx="1832.00" cy="314.30" r="118.30" fill="none" stroke="#444" stroke-width="0.9" stroke-dasharray="20 3 3 3"/>
<circle cx="1748.60" cy="230.80" r="6.60" fill="none" stroke="#000" stroke-width="2.0"/>
<circle cx="1748.60" cy="397.80" r="6.60" fill="none" stroke="#000" stroke-width="2.0"/>
<circle cx="1915.80" cy="230.80" r="6.60" fill="none" stroke="#000" stroke-width="2.0"/>
<circle cx="1915.80" cy="397.80" r="6.60" fill="none" stroke="#000" stroke-width="2.0"/>
<line x1="1734.20" y1="314.30" x2="1930.00" y2="314.30" stroke="#333" stroke-width="1" stroke-dasharray="22 3.5 5 3.5"/>
<line x1="1832.00" y1="212.50" x2="1832.00" y2="416.00" stroke="#444" stroke-width="1.1" stroke-dasharray="22 3.5 5 3.5"/>
<line x1="1832.00" y1="314.30" x2="1742.00" y2="224.30" stroke="#111" stroke-width="1" stroke-dasharray="9 4 21 4 4 4"/>
<line x1="1832.00" y1="314.30" x2="1922.00" y2="224.30" stroke="#111" stroke-width="1" stroke-dasharray="9 4 21 4 4 4"/>
<path d="M1770.54 277.37 A71.7 71.7 0 0 1 1893.46 277.37" fill="none" stroke="#000" stroke-width="1"/>
<polygon points="1781.30,263.60 1776.63,270.25 1774.65,268.27" fill="#000"/>
<polygon points="1882.70,263.60 1889.35,268.27 1887.37,270.25" fill="#000"/>
<polygon points="1832.00,242.60 1824.12,244.55 1823.92,241.76" fill="#000"/>
<polygon points="1832.00,242.60 1840.08,241.76 1839.88,244.55" fill="#000"/>
<text x="1783.50" y="256.00" font-size="27" text-anchor="start" fill="#000" transform="rotate(-22 1783.50 256.00)">45°</text>
<text x="1838.80" y="239.50" font-size="27" text-anchor="start" fill="#000" transform="rotate(24 1838.80 239.50)">45°</text>
<line x1="1711.50" y1="374.50" x2="1961.80" y2="248.70" stroke="#222" stroke-width="1"/>
<line x1="1961.80" y1="248.70" x2="2033.00" y2="248.70" stroke="#222" stroke-width="1"/>
<polygon points="1726.22,367.27 1719.38,372.60 1717.86,369.56" fill="#000"/>
<polygon points="1937.78,261.33 1944.62,256.00 1946.14,259.04" fill="#000"/>
<text x="1968.50" y="244.30" font-size="26" text-anchor="start" fill="#000" textLength="54" lengthAdjust="spacingAndGlyphs">ØB3</text>
<line x1="1724.70" y1="153.00" x2="1805.00" y2="153.00" stroke="#000" stroke-width="1"/>
<polygon points="1741.70,153.00 1733.20,154.70 1733.20,151.30" fill="#000"/>
<polygon points="1754.70,153.00 1763.20,151.30 1763.20,154.70" fill="#000"/>
<line x1="1741.70" y1="147.50" x2="1741.70" y2="223.00" stroke="#333" stroke-width="1"/>
<line x1="1754.70" y1="147.50" x2="1754.70" y2="224.00" stroke="#333" stroke-width="1"/>
<text x="1772.00" y="148.00" font-size="26" text-anchor="start" fill="#000">B6</text>
<line x1="1734.30" y1="405.80" x2="1734.30" y2="507.60" stroke="#222" stroke-width="1"/>
<line x1="1930.50" y1="405.80" x2="1930.50" y2="507.60" stroke="#222" stroke-width="1"/>
<line x1="1734.30" y1="502.30" x2="1930.50" y2="502.30" stroke="#000" stroke-width="1"/>
<polygon points="1734.30,502.30 1742.80,500.60 1742.80,504.00" fill="#000"/>
<polygon points="1930.50,502.30 1922.00,504.00 1922.00,500.60" fill="#000"/>
<rect x="1792.80" y="476.80" width="21.00" height="20.70" fill="none" stroke="#000" stroke-width="1.5"/>
<text x="1819.50" y="497.50" font-size="26" text-anchor="start" fill="#000">B8</text>
</svg>
</body></html>
